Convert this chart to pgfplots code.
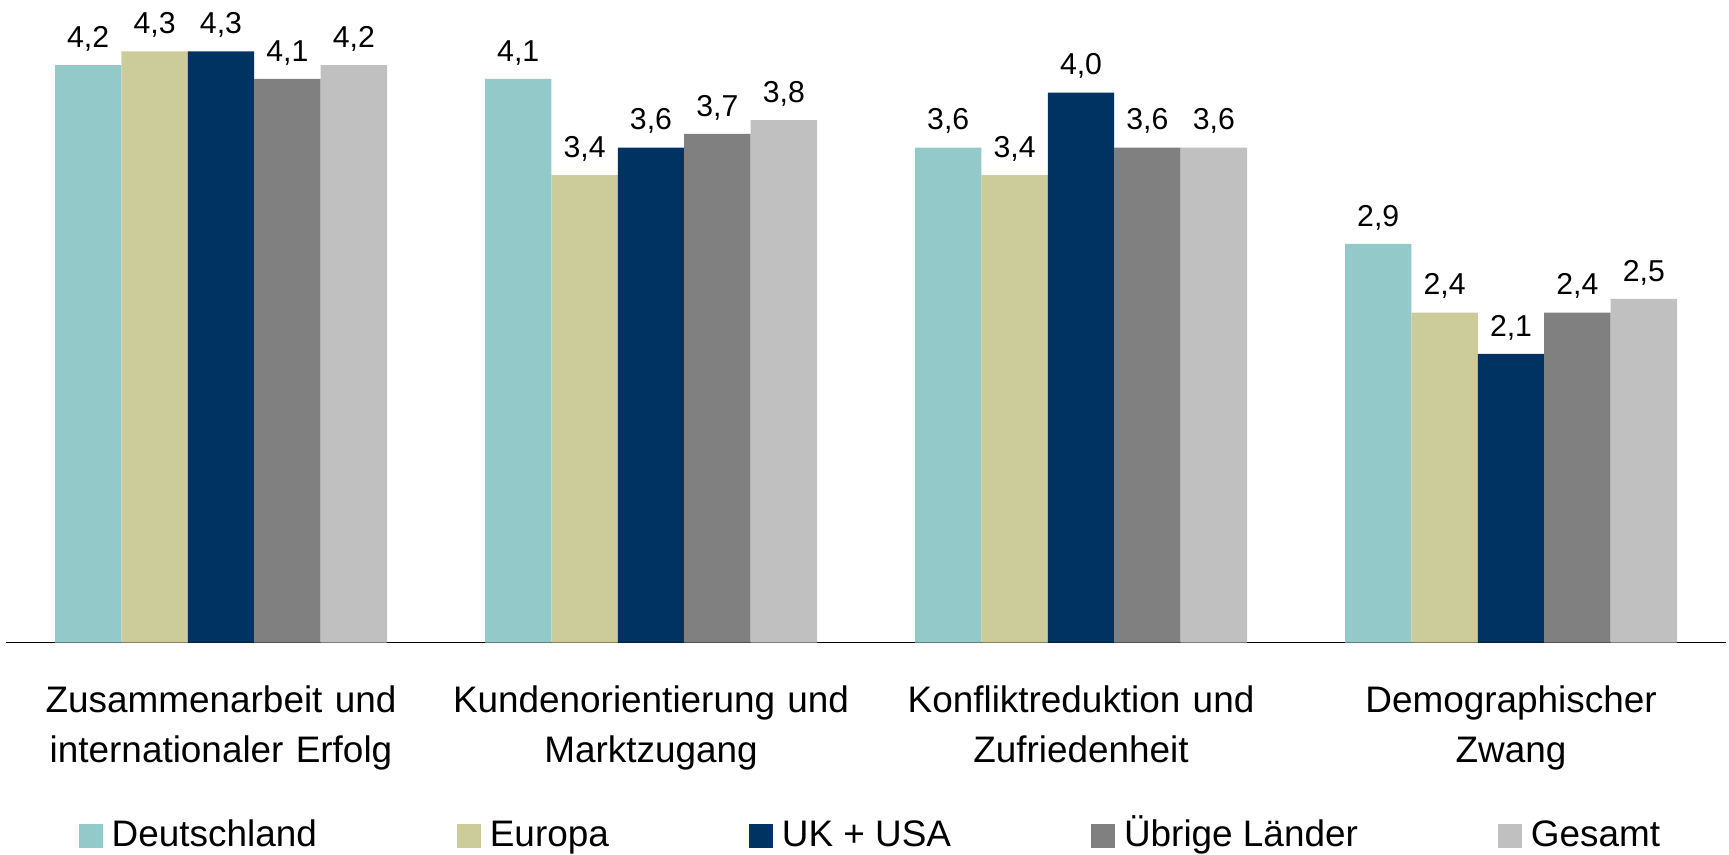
\documentclass[border=0pt]{standalone}
\usepackage{pgfplots}
\pgfplotsset{compat=1.18}
\usepackage{fontspec}
\setmainfont{Liberation Sans}

\definecolor{cDe}{HTML}{93C9C8}
\definecolor{cEu}{HTML}{CCCB9A}
\definecolor{cUk}{HTML}{003262}
\definecolor{cUe}{HTML}{808080}
\definecolor{cGe}{HTML}{C0C0C0}

\newcommand{\valfont}{\fontsize{8.6}{10}\selectfont}
\newcommand{\catfont}{\fontsize{10.5}{14.2}\selectfont}

\begin{document}
\begin{tikzpicture}
\begin{axis}[
    name=ax,
    scale only axis,
    width=172mm, height=64.27mm,
    xmin=-0.5, xmax=3.5,
    ymin=0, ymax=4.674,
    axis x line*=bottom,
    axis y line=none,
    x axis line style={line width=0.4pt, black},
    ytick=\empty,
    xtick={0,1,2,3},
    xticklabels={{Zusammenarbeit und\\internationaler Erfolg},
                 {Kundenorientierung und\\Marktzugang},
                 {Konfliktreduktion und\\Zufriedenheit},
                 {Demographischer\\Zwang}},
    major tick length=0pt,
    xticklabel style={font=\catfont, align=center, text width=42mm, inner sep=0pt, anchor=north, yshift=-4.2mm},
    ybar=0pt,
    bar width=6.64mm,
    clip=false,
    nodes near coords,
    /pgf/number format/.cd, fixed, fixed zerofill, precision=1, use comma, assume math mode=true,
    /pgfplots/.cd,
    every node near coord/.append style={font=\valfont, black, anchor=base, inner sep=0pt, yshift=1.77mm},
    legend columns=5,
    legend style={draw=none, at={(0.502,-0.300)}, anchor=center, font=\catfont,
        nodes={inner sep=0pt},
        /tikz/every odd column/.append style={column sep=0.9mm},
        /tikz/every even column/.append style={column sep=14mm, text height=0.75em, text depth=0.21em}},
    legend image code/.code={\fill[#1] (0mm,-1.2mm) rectangle (2.4mm,1.2mm);},
]
\addplot[draw=none, fill=cDe] coordinates {(0,4.2) (1,4.1) (2,3.6) (3,2.9)};
\addlegendentry{Deutschland}
\addplot[draw=none, fill=cEu] coordinates {(0,4.3) (1,3.4) (2,3.4) (3,2.4)};
\addlegendentry{Europa}
\addplot[draw=none, fill=cUk] coordinates {(0,4.3) (1,3.6) (2,4.0) (3,2.1)};
\addlegendentry{UK + USA}
\addplot[draw=none, fill=cUe] coordinates {(0,4.1) (1,3.7) (2,3.6) (3,2.4)};
\addlegendentry{Übrige Länder}
\addplot[draw=none, fill=cGe] coordinates {(0,4.2) (1,3.8) (2,3.6) (3,2.5)};
\addlegendentry{Gesamt}
\end{axis}
\pgfresetboundingbox
\path[use as bounding box] ([xshift=-0.6mm,yshift=-21.23mm]ax.south west) rectangle ([xshift=0.3mm]ax.north east);
\end{tikzpicture}
\end{document}
